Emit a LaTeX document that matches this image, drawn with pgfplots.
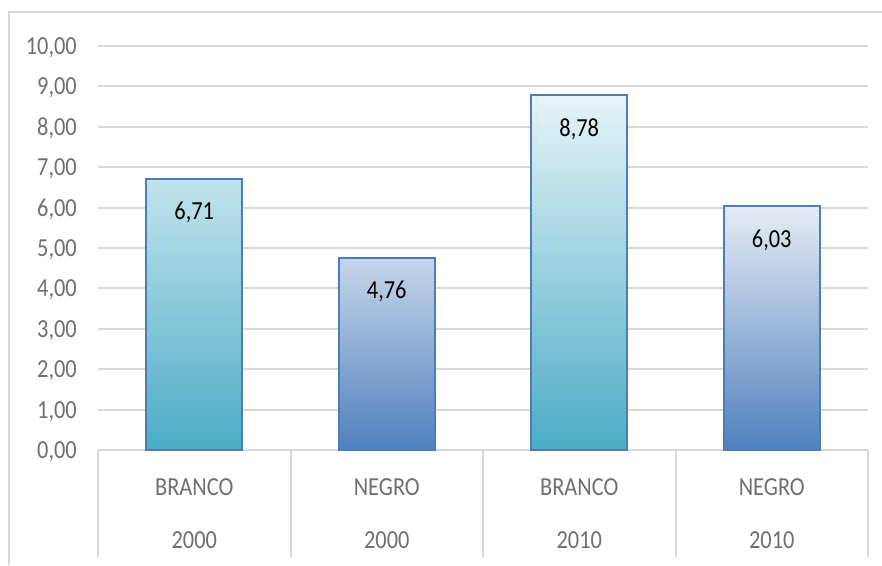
\documentclass[border=0pt]{standalone}
\usepackage{fontspec}
\setmainfont{Carlito}[FakeStretch=0.86]
\usepackage{pgfplots}
\pgfplotsset{compat=1.18}
\definecolor{gridc}{HTML}{D9D9D9}
\definecolor{lab}{HTML}{6F6F6F}
\definecolor{brd}{HTML}{4A7EBB}
\definecolor{tealB}{HTML}{4BACC6}
\definecolor{tealT}{HTML}{E6F4F8}
\definecolor{blueB}{HTML}{4F81BD}
\definecolor{blueT}{HTML}{E6ECF5}
\newcommand{\lf}{\fontsize{26}{31}\selectfont}
\begin{document}
\begin{tikzpicture}
\path[use as bounding box] (0pt,0pt) rectangle (882pt,565pt);
\draw[gridc, line width=1.5pt] (9pt,0pt) -- (9pt,553pt) -- (882pt,553pt);
\begin{axis}[
  at={(98pt,115pt)}, anchor=south west,
  scale only axis, width=770pt, height=404pt,
  xmin=-0.5, xmax=3.5, ymin=0, ymax=10,
  ytick={0,1,...,10},
  xtick={0,1,2,3}, xticklabels={BRANCO,NEGRO,BRANCO,NEGRO},
  major tick length=0pt,
  axis line style={draw=none},
  ymajorgrids, grid style={gridc, line width=2pt},
  tick label style={font=\lf, text=lab},
  yticklabel style={anchor=base east, inner sep=0pt, xshift=-21pt, yshift=-8.5pt},
  xticklabel style={anchor=base, inner sep=0pt, yshift=-45pt},
  clip=false,
  ybar, bar width=96pt, bar shift=0pt,
  nodes near coords,
  nodes near coords style={anchor=base, inner sep=0pt, yshift=-41pt, font=\lf, text=black},
  /pgf/number format/.cd, fixed, fixed zerofill, precision=2, use comma, assume math mode=true,
]
\addplot[draw=brd, line width=2pt, top color=tealT, bottom color=tealB] coordinates {(0,6.71) (2,8.78)};
\addplot[draw=brd, line width=2pt, top color=blueT, bottom color=blueB] coordinates {(1,4.76) (3,6.03)};
\draw[gridc, line width=2pt] (axis cs:-0.5,0) -- ++(0pt,-107pt);
\draw[gridc, line width=2pt] (axis cs:0.5,0) -- ++(0pt,-107pt);
\draw[gridc, line width=2pt] (axis cs:1.5,0) -- ++(0pt,-107pt);
\draw[gridc, line width=2pt] (axis cs:2.5,0) -- ++(0pt,-107pt);
\draw[gridc, line width=2pt] (axis cs:3.5,0) -- ++(0pt,-107pt);
\node[anchor=base, inner sep=0pt, font=\lf, text=lab] at ([yshift=-98pt]axis cs:0,0) {2000};
\node[anchor=base, inner sep=0pt, font=\lf, text=lab] at ([yshift=-98pt]axis cs:1,0) {2000};
\node[anchor=base, inner sep=0pt, font=\lf, text=lab] at ([yshift=-98pt]axis cs:2,0) {2010};
\node[anchor=base, inner sep=0pt, font=\lf, text=lab] at ([yshift=-98pt]axis cs:3,0) {2010};
\end{axis}
\end{tikzpicture}
\end{document}
